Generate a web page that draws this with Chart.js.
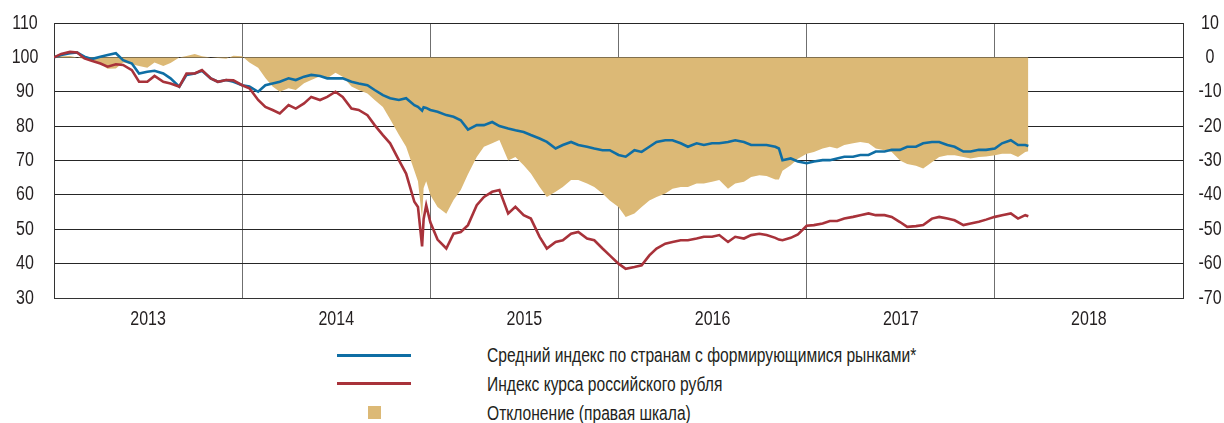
<!DOCTYPE html>
<html>
<head>
<meta charset="utf-8">
<script src="https://cdn.jsdelivr.net/npm/chart.js@4.4.1/dist/chart.umd.min.js"></script>
<style>
  html, body { margin:0; padding:0; background:#fff; }
  #wrap { position:relative; width:1224px; height:423px; overflow:hidden; font-family:'Liberation Sans',Arial,sans-serif; color:#231f20; }
  canvas { position:absolute; left:0; top:0; }
  .lg-line { position:absolute; height:3px; }
  .lg-sq { position:absolute; width:13px; height:13px; }
  .lg-txt { position:absolute; font-size:20px; line-height:24px; white-space:nowrap; transform-origin:0 50%; }
</style>
</head>
<body>
<div id="wrap">
  <canvas id="c" width="1224" height="340"></canvas>
  <div class="lg-line" id="l1" style="left:337px;top:354px;width:74px;"></div>
  <div class="lg-txt" id="t1" style="left:487px;top:343px;"></div>
  <div class="lg-line" id="l2" style="left:337px;top:382px;width:74px;"></div>
  <div class="lg-txt" id="t2" style="left:487px;top:372px;"></div>
  <div class="lg-sq" id="l3" style="left:368px;top:406px;"></div>
  <div class="lg-txt" id="t3" style="left:487px;top:401px;"></div>
</div>
<script>
// ---- data ----
const dates = [
 "2013-01-01","2013-01-15","2013-02-01","2013-02-15","2013-03-01","2013-03-15","2013-04-01","2013-04-15",
 "2013-05-01","2013-05-15","2013-06-01","2013-06-15","2013-07-01","2013-07-15","2013-08-01","2013-08-15",
 "2013-09-01","2013-09-15","2013-10-01","2013-10-15","2013-11-01","2013-11-15","2013-12-01","2013-12-15",
 "2014-01-01","2014-01-15","2014-02-01","2014-02-15","2014-03-01","2014-03-15","2014-04-01","2014-04-15",
 "2014-05-01","2014-05-15","2014-06-01","2014-06-15","2014-07-01","2014-07-15","2014-08-01","2014-08-15",
 "2014-09-01","2014-09-15","2014-10-01","2014-10-15","2014-11-01","2014-11-15","2014-12-01","2014-12-08",
 "2014-12-16","2014-12-19","2014-12-24",
 "2015-01-01","2015-01-15","2015-02-01","2015-02-15","2015-03-01","2015-03-15","2015-04-01","2015-04-15",
 "2015-05-01","2015-05-15","2015-06-01","2015-06-15","2015-07-01","2015-07-15","2015-08-01","2015-08-15",
 "2015-09-01","2015-09-15","2015-10-01","2015-10-15","2015-11-01","2015-11-15","2015-12-01","2015-12-15",
 "2016-01-01","2016-01-15","2016-02-01","2016-02-15","2016-03-01","2016-03-15","2016-04-01","2016-04-15",
 "2016-05-01","2016-05-15","2016-06-01","2016-06-15","2016-07-01","2016-07-15","2016-08-01","2016-08-15",
 "2016-09-01","2016-09-15","2016-10-01","2016-10-15","2016-11-01","2016-11-08","2016-11-15","2016-12-01",
 "2016-12-15",
 "2017-01-01","2017-01-15","2017-02-01","2017-02-15","2017-03-01","2017-03-15","2017-04-01","2017-04-15",
 "2017-05-01","2017-05-15","2017-06-01","2017-06-15","2017-07-01","2017-07-15","2017-08-01","2017-08-15",
 "2017-09-01","2017-09-15","2017-10-01","2017-10-15","2017-11-01","2017-11-15","2017-12-01","2017-12-15",
 "2018-01-01","2018-01-15","2018-02-01","2018-02-15","2018-03-01","2018-03-07"
];
const emIndex = [
 100.0,100.7,101.2,101.4,100.2,99.5,100.2,100.7,
 101.2,99.2,98.2,95.3,95.8,96.1,95.3,93.9,
 91.5,94.9,95.3,96.1,93.9,92.9,93.4,92.9,
 91.9,91.5,90.0,91.9,92.4,92.9,93.9,93.4,
 94.4,94.9,94.6,93.9,93.9,93.9,92.9,92.4,
 91.9,90.5,89.0,88.1,87.6,88.1,86.1,85.6,
 84.5,85.5,85.3,
 84.7,84.2,83.2,82.7,81.7,79.0,80.3,80.3,
 81.2,80.0,79.3,78.8,78.3,77.4,76.4,75.4,
 73.5,74.5,75.4,74.5,74.0,73.5,73.0,73.0,
 71.6,71.1,73.0,72.5,74.0,75.4,75.9,75.9,
 75.0,74.0,75.0,74.5,75.0,75.0,75.4,75.9,
 75.4,74.5,74.5,74.5,74.0,73.5,70.1,70.6,
 69.7,
 69.2,69.7,70.1,70.1,70.6,71.1,71.1,71.6,
 71.6,72.6,72.6,73.1,73.1,74.0,74.0,75.0,
 75.4,75.4,74.5,74.0,72.6,72.6,73.1,73.1,
 73.5,75.0,75.9,74.5,74.5,74.2
];
const rubIndex = [
 100.0,101.0,101.6,101.4,99.7,99.0,98.2,97.3,
 98.0,97.8,96.3,92.9,92.9,94.6,92.9,92.4,
 91.5,95.3,95.3,96.3,93.9,92.9,93.4,93.3,
 91.9,91.0,87.6,85.6,84.7,83.7,86.1,85.1,
 86.6,88.5,87.6,88.5,90.0,88.5,85.1,84.7,
 83.2,80.3,77.4,75.0,70.1,66.2,58.0,56.5,
 45.0,53.0,57.0,
 52.0,47.0,44.4,48.7,49.2,51.2,57.0,59.4,
 60.9,61.4,54.6,56.5,54.1,53.1,47.8,44.4,
 46.3,46.8,48.7,49.2,47.3,46.8,44.4,42.4,
 40.0,38.5,39.0,39.5,42.4,44.4,45.8,46.3,
 46.8,46.8,47.3,47.8,47.8,48.3,46.3,47.8,
 47.3,48.3,48.7,48.3,47.5,47.0,46.8,47.5,
 48.5,
 51.0,51.2,51.7,52.4,52.4,53.1,53.6,54.1,
 54.6,54.1,54.1,53.6,52.1,50.7,50.9,51.2,
 53.1,53.6,53.1,52.6,51.2,51.7,52.2,52.8,
 53.6,54.1,54.6,53.1,54.1,53.8
];
const deviation = [
 0,0.3,0.4,0,-0.5,-0.5,-2,-3.3,
 -3.2,-1.5,-2,-2.5,-3,-1.5,-2.5,-1.6,
 0,0.4,1,0.3,0,-0.2,-0.4,0.5,
 0.3,-1.5,-3,-6,-8.5,-10,-9,-9.5,
 -7.5,-6.6,-5.5,-6.1,-4.5,-5.6,-8.5,-9.5,
 -10.5,-12.4,-14.4,-18,-22.5,-26,-33,-36,
 -47,-38,-36,
 -40,-43.5,-45.5,-41.5,-38.6,-34,-29,-26,
 -25,-24,-30,-29,-31.4,-33.8,-37.7,-40.6,
 -39.1,-37.7,-35.7,-35.7,-36.7,-37.7,-39.6,-41.6,
 -43.5,-46.4,-45.4,-43.5,-41.6,-40.6,-39.6,-38.2,
 -37.7,-37.7,-36.7,-36.7,-36.2,-35.7,-38.2,-36.7,
 -36.2,-34.8,-34.3,-34.5,-35.5,-35.5,-33,-31.4,
 -29.5,
 -28,-27.5,-26.5,-26,-26.5,-25.5,-25,-24.6,
 -25,-26.5,-27,-27.5,-30,-31,-31.5,-32.3,
 -30.5,-29,-28.5,-28.5,-29,-29.4,-29,-28.8,
 -28.5,-28,-28,-29,-27.5,-27.3
];
const years = [2013,2014,2015,2016,2017,2018,2019];
const yearLabels = ["2013","2014","2015","2016","2017","2018"];
const leftTicks = [30,40,50,60,70,80,90,100,110];
const rightTicks = [-70,-60,-50,-40,-30,-20,-10,0,10];
const labels = [
 "Средний индекс по странам с формирующимися рынками*",
 "Индекс курса российского рубля",
 "Отклонение (правая шкала)"
];

// ---- styling ----
const BLUE = '#0f6ea4', RED = '#a8323a', TAN = '#dcb976', TXT = '#231f20';
const FONT = "20px 'Liberation Sans', Arial, sans-serif";
const SQUEEZE = 0.8;   // the reference uses a condensed face

function toX(s){
  const [y,m,d] = s.split('-').map(Number);
  const t = Date.UTC(y,m-1,d), t0 = Date.UTC(y,0,1), t1 = Date.UTC(y+1,0,1);
  return y + (t - t0)/(t1 - t0);
}
const xs = dates.map(toX);
const pts = arr => arr.map((v,i)=>({x:xs[i], y:v}));

// legend (HTML text, horizontally condensed to match the narrow face)
document.getElementById('l1').style.background = BLUE;
document.getElementById('l2').style.background = RED;
document.getElementById('l3').style.background = TAN;
['t1','t2','t3'].forEach((id,i)=>{
  const el = document.getElementById(id);
  el.textContent = labels[i];
  el.style.transform = 'scaleX(0.78)';
});

function squeezedText(ctx, txt, x, y){
  ctx.save();
  ctx.translate(x, y);
  ctx.scale(SQUEEZE, 1);
  ctx.fillText(txt, 0, 0);
  ctx.restore();
}

const axisLabels = {
  id:'axisLabels',
  afterDraw(chart){
    const ctx = chart.ctx, s = chart.scales, area = chart.chartArea;
    ctx.save();
    ctx.font = FONT; ctx.fillStyle = TXT;
    ctx.textAlign = 'center'; ctx.textBaseline = 'middle';
    leftTicks.forEach(v => squeezedText(ctx, String(v), 25, s.y.getPixelForValue(v)));
    rightTicks.forEach(v => squeezedText(ctx, String(v), 1210, s.y1.getPixelForValue(v)));
    yearLabels.forEach((t,i) => squeezedText(ctx, t, s.x.getPixelForValue(years[i] + 0.5), area.bottom + 21));
    ctx.restore();
  }
};

new Chart(document.getElementById('c'), {
  type:'line',
  data:{ datasets:[
    {label:labels[1], data:pts(rubIndex), yAxisID:'y', borderColor:RED, borderWidth:2.6, pointRadius:0, fill:false, tension:0},
    {label:labels[0], data:pts(emIndex), yAxisID:'y', borderColor:BLUE, borderWidth:2.6, pointRadius:0, fill:false, tension:0},
    {label:labels[2], data:pts(deviation), yAxisID:'y1', borderWidth:0, borderColor:'rgba(0,0,0,0)', backgroundColor:TAN, pointRadius:0, fill:'origin', tension:0}
  ]},
  plugins:[axisLabels],
  options:{
    responsive:false, animation:false,
    layout:{padding:{top:23,left:0,right:0,bottom:0}},
    plugins:{legend:{display:false}, tooltip:{enabled:false}},
    scales:{
      x:{type:'linear', min:2013, max:2019,
        afterBuildTicks: s => { s.ticks = years.map(v=>({value:v})); },
        afterFit: s => { s.height = 42; },
        ticks:{display:false},
        grid:{color:'#6f6f6f', lineWidth:1, drawTicks:false},
        border:{color:'#333', width:1}
      },
      y:{position:'left', min:30, max:110,
        afterBuildTicks: s => { s.ticks = leftTicks.map(v=>({value:v})); },
        afterFit: s => { s.width = 54; },
        ticks:{display:false},
        grid:{color:'#262626', lineWidth:1, drawTicks:false},
        border:{color:'#333', width:1}
      },
      y1:{position:'right', min:-70, max:10,
        afterBuildTicks: s => { s.ticks = rightTicks.map(v=>({value:v})); },
        afterFit: s => { s.width = 41; },
        ticks:{display:false},
        grid:{drawOnChartArea:false, drawTicks:false},
        border:{color:'#333', width:1}
      }
    }
  }
});
</script>
</body>
</html>
